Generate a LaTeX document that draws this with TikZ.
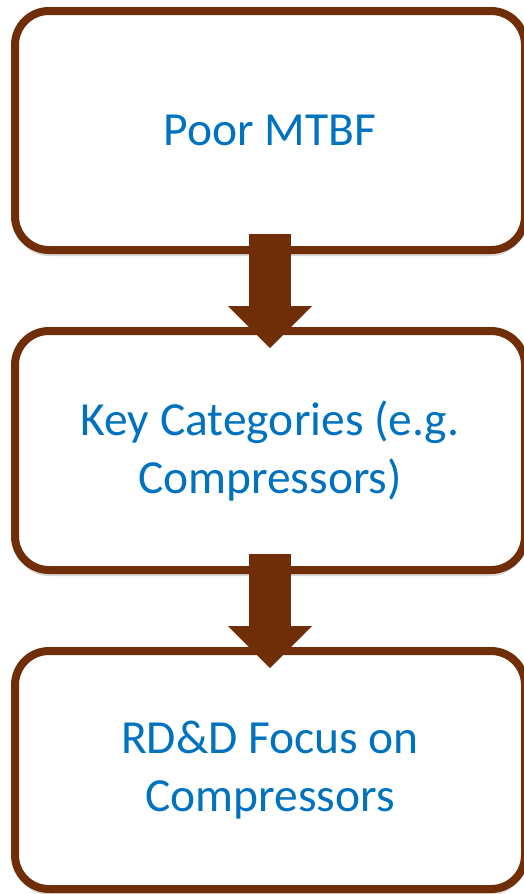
\documentclass[tikz,border=0pt]{standalone}
\usepackage{fontspec}
\setmainfont{Carlito}
\usetikzlibrary{arrows.meta,shadows}
\definecolor{boxbrown}{RGB}{112,46,8}
\definecolor{textblue}{RGB}{0,114,192}
\begin{document}
\begin{tikzpicture}[x=1pt,y=1pt,
    stepbox/.style={draw=boxbrown, line width=8pt, fill=white, rounded corners=34pt,
      minimum width=510pt, inner sep=0pt, outer sep=0pt, align=center, text=textblue,
      font=\fontsize{47.5}{58}\selectfont,
      drop shadow={shadow xshift=0pt, shadow yshift=-6pt, fill=black, opacity=0.15}},
    bigarrow/.style={draw=boxbrown, line width=42pt,
      -{Triangle[length=42pt, width=84pt, line width=0pt, fill=boxbrown]}}]
  \useasboundingbox (0,0) rectangle (524,-894);
  \node[stepbox, minimum height=239pt] (mtbf) at (270,-130.5) {Poor MTBF};
  \node[stepbox, minimum height=239pt] (categories) at (270,-450.5) {Key Categories (e.g.\\Compressors)};
  \node[stepbox, minimum height=238pt] (focus) at (270,-770) {RD\&D Focus on\\Compressors};
  \begin{scope}[bigarrow]
    \draw ([yshift=16pt]mtbf.south) -- ([yshift=-17pt]categories.north);
    \draw ([yshift=16pt]categories.south) -- ([yshift=-17pt]focus.north);
  \end{scope}
\end{tikzpicture}
\end{document}
